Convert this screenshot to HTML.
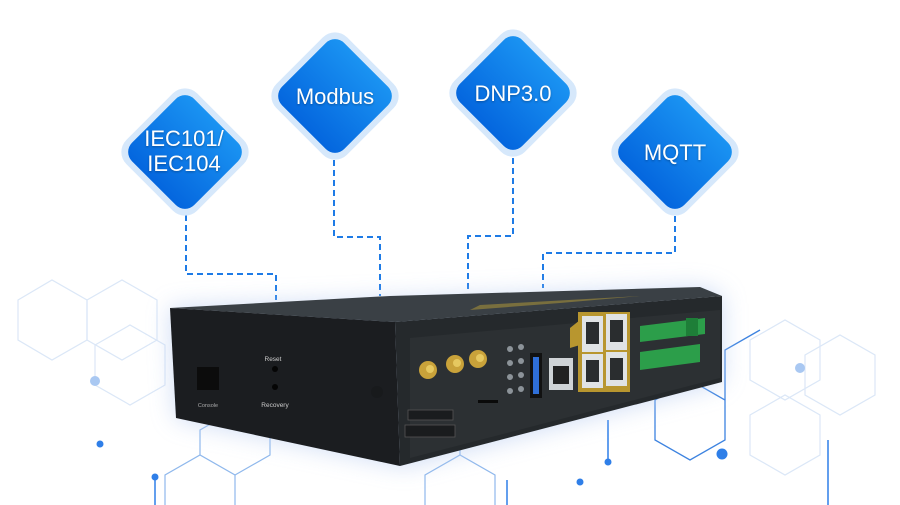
<!DOCTYPE html>
<html><head><meta charset="utf-8"><style>
html,body{margin:0;padding:0;background:#fff;width:900px;height:505px;overflow:hidden}
svg{display:block}
</style></head><body>
<svg width="900" height="505" viewBox="0 0 900 505" xmlns="http://www.w3.org/2000/svg" font-family="Liberation Sans, sans-serif">
<defs>
<linearGradient id="dg" x1="0" y1="0" x2="0" y2="1"><stop offset="0" stop-color="#1a93f2"/><stop offset="1" stop-color="#0466de"/></linearGradient>
<filter id="blur" x="-30%" y="-30%" width="160%" height="160%"><feGaussianBlur stdDeviation="12"/></filter>
<g id="dia">
<rect x="-50" y="-50" width="100" height="100" rx="17" transform="rotate(45)" fill="#d6e8fb"/>
<rect x="-44" y="-44" width="88" height="88" rx="13" transform="rotate(45)" fill="url(#dg)"/>
</g>
</defs>
<g fill="none" stroke="#dbe7f7" stroke-width="1.2">
<polygon points="18,300 52,280 87,300 87,340 52,360 18,340"/>
<polygon points="87,300 122,280 157,300 157,340 122,360 87,340"/>
<polygon points="95,345 130,325 165,345 165,385 130,405 95,385"/>
<polygon points="750,340 785,320 820,340 820,380 785,400 750,380"/>
<polygon points="805,355 840,335 875,355 875,395 840,415 805,395"/>
<polygon points="750,415 785,395 820,415 820,455 785,475 750,455"/>
</g>
<g fill="none" stroke="#8fb8ec" stroke-width="1.2">
<polyline points="165,505 165,475 200,455 235,475 235,505"/>
<polyline points="200,455 200,430 235,410 270,430 270,455 235,475"/>
<polyline points="425,505 425,475 460,455 495,475 495,505"/>
<polyline points="460,455 460,430 495,410"/>
</g>
<g fill="none" stroke="#3d83e0" stroke-width="1.3">
<polygon points="655,400 690,380 725,400 725,440 690,460 655,440"/>
<polyline points="725,400 725,350 760,330"/>
</g>
<g fill="#2f7fe8">
<circle cx="95" cy="381" r="5" fill="#a9c8f2"/>
<circle cx="100" cy="444" r="3.5"/>
<circle cx="155" cy="477" r="3.5"/>
<circle cx="608" cy="462" r="3.5"/>
<circle cx="580" cy="482" r="3.5"/>
<circle cx="722" cy="454" r="5.5"/>
<circle cx="800" cy="368" r="5" fill="#a9c8f2"/>
</g>
<g stroke="#2f7fe8" stroke-width="1.5">
<line x1="155" y1="477" x2="155" y2="505"/>
<line x1="608" y1="420" x2="608" y2="462"/>
<line x1="507" y1="480" x2="507" y2="505"/>
<line x1="828" y1="440" x2="828" y2="505"/>
</g>
<g fill="none" stroke="#1e7be6" stroke-width="2" stroke-dasharray="6,4">
<polyline points="186,215 186,274 276,274 276,300"/>
<polyline points="334,160 334,237 380,237 380,296"/>
<polyline points="513,158 513,236 468,236 468,292"/>
<polyline points="675,216 675,253 543,253 543,288"/>
</g>
<polygon points="170,308 700,288 722,296 722,382 405,466 176,418" fill="#b9cdf0" opacity="0.7" filter="url(#blur)"/>
<polygon points="170,308 390,296 700,287 722,296 395,322" fill="#3a4045"/>
<polygon points="480,305 640,296 560,303 470,310" fill="#8a7a3c" opacity="0.8"/>
<polygon points="170,308 395,322 400,466 176,418" fill="#1b1d20"/>
<polygon points="395,322 722,296 722,382 400,466" fill="#25292c"/>
<polygon points="410,338 720,310 720,378 410,458" fill="#2c3033"/>
<rect x="197" y="367" width="22" height="23" fill="#0c0c0c"/>
<text x="208" y="407" font-size="5.5" fill="#aaa" text-anchor="middle">Console</text>
<text x="273" y="361" font-size="6.5" fill="#ccc" text-anchor="middle">Reset</text>
<circle cx="275" cy="369" r="3" fill="#050505"/>
<circle cx="275" cy="387" r="3" fill="#050505"/>
<text x="275" y="407" font-size="6.5" fill="#ccc" text-anchor="middle">Recovery</text>
<circle cx="377" cy="392" r="6" fill="#181a1c"/>
<g fill="#c9a23a"><circle cx="428" cy="370" r="9"/><circle cx="455" cy="364" r="9"/><circle cx="478" cy="359" r="9"/></g>
<g fill="#e6c860"><circle cx="430" cy="369" r="4"/><circle cx="457" cy="363" r="4"/><circle cx="480" cy="358" r="4"/></g>
<g fill="#1a1c1e" stroke="#555" stroke-width="0.8">
<rect x="408" y="410" width="45" height="10"/><rect x="405" y="425" width="50" height="12"/>
</g>
<rect x="478" y="400" width="20" height="3" fill="#0a0a0a"/>
<g fill="#8c9399"><circle cx="510" cy="349" r="3"/><circle cx="510" cy="363" r="3"/><circle cx="510" cy="377" r="3"/><circle cx="510" cy="391" r="3"/>
<circle cx="521" cy="347" r="3"/><circle cx="521" cy="361" r="3"/><circle cx="521" cy="375" r="3"/><circle cx="521" cy="389" r="3"/></g>
<rect x="530" y="353" width="12" height="45" fill="#111"/>
<rect x="533" y="357" width="6" height="37" fill="#2f6fd8"/>
<rect x="549" y="358" width="24" height="32" fill="#cfd3d6"/>
<rect x="553" y="366" width="16" height="18" fill="#222"/>
<polygon points="570,328 580,320 580,345 570,348" fill="#b8962f"/>
<rect x="578" y="312" width="52" height="80" fill="#b8962f"/>
<rect x="582" y="316" width="21" height="36" fill="#e0e3e5"/><rect x="606" y="314" width="21" height="36" fill="#e0e3e5"/>
<rect x="582" y="354" width="21" height="34" fill="#e0e3e5"/><rect x="606" y="352" width="21" height="34" fill="#e0e3e5"/>
<g fill="#2a2d2f"><rect x="586" y="322" width="13" height="22"/><rect x="610" y="320" width="13" height="22"/><rect x="586" y="360" width="13" height="22"/><rect x="610" y="358" width="13" height="22"/></g>
<polygon points="640,326 705,318 705,334 640,342" fill="#2c9e4a"/>
<polygon points="640,352 700,344 700,362 640,370" fill="#2c9e4a"/>
<rect x="686" y="318" width="12" height="18" fill="#1e7e38"/>
<use href="#dia" x="185" y="152"/>
<use href="#dia" x="335" y="96"/>
<use href="#dia" x="513" y="93"/>
<use href="#dia" x="675" y="152"/>
<g fill="#fff" font-size="22" text-anchor="middle" style="text-shadow:0 1px 2px rgba(0,0,0,.3)">
<text x="184" y="146">IEC101/</text>
<text x="184" y="171">IEC104</text>
<text x="335" y="104">Modbus</text>
<text x="513" y="101">DNP3.0</text>
<text x="675" y="160">MQTT</text>
</g>
</svg>
</body></html>
